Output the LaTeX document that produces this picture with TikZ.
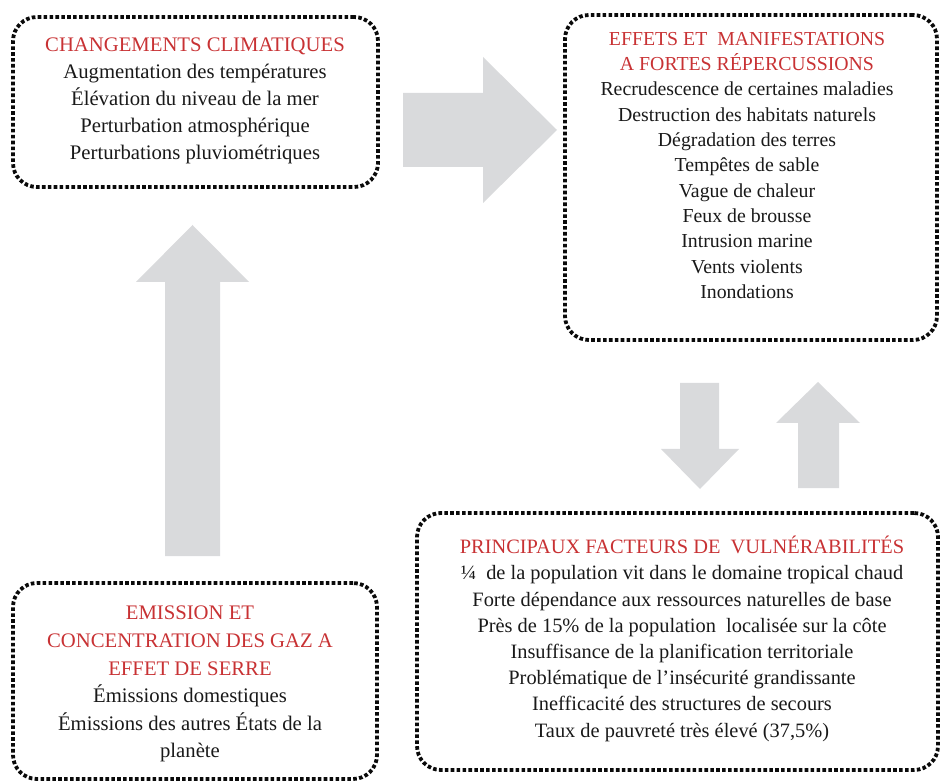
\documentclass[tikz,border=0pt]{standalone}
\usepackage{fontspec}
\setmainfont{Liberation Serif}
\definecolor{arrowgrey}{RGB}{217,218,220}
\definecolor{titlered}{RGB}{200,50,52}
\definecolor{bodytext}{RGB}{25,25,25}
\definecolor{dotblack}{RGB}{10,10,10}
\tikzset{
  dotbox/.style={draw=dotblack, line width=3.8pt, dash pattern=on 3.6pt off 2.3pt,
    rounded corners=24pt, inner sep=0pt, shape=rectangle},
  boxtext/.style={align=center, inner sep=0pt, text=bodytext, anchor=north},
  blockarrow/.style={fill=arrowgrey, draw=none},
}
\newcommand{\ttl}[1]{\textcolor{titlered}{#1}}
\begin{document}
\begin{tikzpicture}[x=1pt,y=-1pt]
\useasboundingbox (0,0) rectangle (940,783);

% boxes
\node[dotbox, minimum width=365pt, minimum height=170pt] (b1) at (195.5,102) {};
\node[dotbox, minimum width=372pt, minimum height=325pt] (b2) at (751,177.5) {};
\node[dotbox, minimum width=521pt, minimum height=257pt] (b3) at (677.5,641.5) {};
\node[dotbox, minimum width=364pt, minimum height=196pt] (b4) at (195,681) {};

% texts
\node[boxtext, font=\fontsize{20.7}{27}\selectfont] (t1) at (195,38)
  {\ttl{CHANGEMENTS CLIMATIQUES}\\Augmentation des températures\\Élévation du niveau de la mer\\Perturbation atmosphérique\\Perturbations pluviométriques};
\node[boxtext, font=\fontsize{19.8}{25.3}\selectfont] (t2) at (747,32)
  {\ttl{EFFETS ET\ \ MANIFESTATIONS}\\\ttl{A FORTES RÉPERCUSSIONS}\\Recrudescence de certaines maladies\\Destruction des habitats naturels\\Dégradation des terres\\Tempêtes de sable\\Vague de chaleur\\Feux de brousse\\Intrusion marine\\Vents violents\\Inondations};
\node[boxtext, font=\fontsize{20.4}{26.2}\selectfont] (t3) at (682,536)
  {\ttl{PRINCIPAUX FACTEURS DE\ \ VULNÉRABILITÉS}\\¼\ \ de la population vit dans le domaine tropical chaud\\Forte dépendance aux ressources naturelles de base\\Près de 15\% de la population\ \ localisée sur la côte\\Insuffisance de la planification territoriale\\Problématique de l’insécurité grandissante\\Inefficacité des structures de secours\\Taux de pauvreté très élevé (37,5\%)};
\node[boxtext, font=\fontsize{20.7}{27.6}\selectfont] (t4) at (190,606)
  {\ttl{EMISSION ET}\\\ttl{CONCENTRATION DES GAZ A}\\\ttl{EFFET DE SERRE}\\Émissions domestiques\\Émissions des autres États de la\\planète};

% block arrows
\fill[blockarrow] (403,93) -- (483,93) -- (483,57) -- (557,130) -- (483,203) -- (483,167) -- (403,167) -- cycle;
\fill[blockarrow] (165,556) -- (165,282) -- (136,282) -- (192.5,225) -- (249,282) -- (220,282) -- (220,556) -- cycle;
\fill[blockarrow] (680,383) -- (719,383) -- (719,449) -- (739,449) -- (700,489) -- (661,449) -- (680,449) -- cycle;
\fill[blockarrow] (798,488) -- (798,423) -- (776,423) -- (818,382) -- (860,423) -- (839,423) -- (839,488) -- cycle;
\end{tikzpicture}
\end{document}
